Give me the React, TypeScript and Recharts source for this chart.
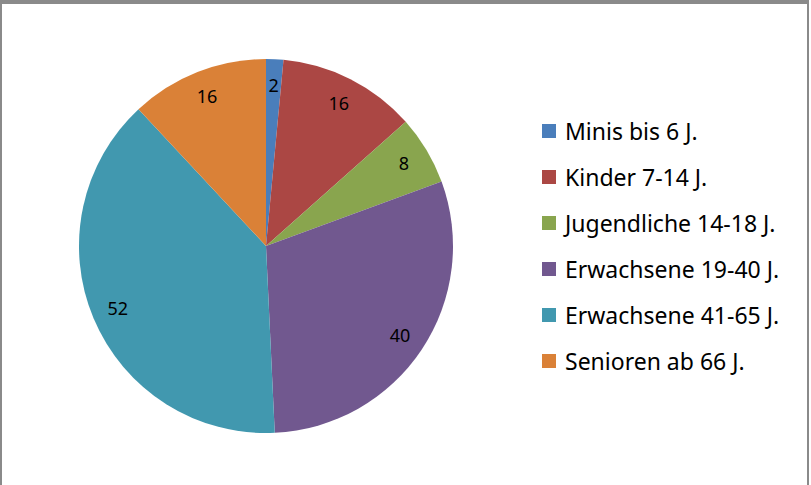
import React from 'react';
import { PieChart, Pie, Cell, Legend } from 'recharts';

const categories = [
  'Minis bis 6 J.',
  'Kinder 7-14 J.',
  'Jugendliche 14-18 J.',
  'Erwachsene 19-40 J.',
  'Erwachsene 41-65 J.',
  'Senioren ab 66 J.',
];
const values = [2, 16, 8, 40, 52, 16];
const colors = ['#4A7EBB', '#AB4744', '#89A54E', '#71588F', '#4198AF', '#DA8137'];

const data = categories.map((name, i) => ({ name, value: values[i] }));

const FONT = '"Noto Sans", "Open Sans", sans-serif';
const RADIAN = Math.PI / 180;

const renderLabel = (props: any) => {
  const { cx, cy, midAngle, outerRadius, value } = props;
  const r = outerRadius * 0.86;
  const x = cx + r * Math.cos(-midAngle * RADIAN);
  const y = cy + r * Math.sin(-midAngle * RADIAN);
  return (
    <text
      x={x}
      y={y}
      fill="#000"
      textAnchor="middle"
      dominantBaseline="central"
      fontSize={18}
      fontFamily={FONT}
    >
      {value}
    </text>
  );
};

const renderLegend = () => (
  <div style={{ fontFamily: FONT, fontSize: 23, color: '#000' }}>
    {categories.map((c, i) => (
      <div key={c} style={{ display: 'flex', alignItems: 'center', height: 46, whiteSpace: 'nowrap' }}>
        <div style={{ width: 14, height: 14, background: colors[i], marginRight: 9, flexShrink: 0 }} />
        <span>{c}</span>
      </div>
    ))}
  </div>
);

export default function App() {
  return (
    <div style={{ position: 'absolute', left: 0, top: 0, width: 811, height: 485, background: '#fff', overflow: 'hidden' }}>
      <div
        style={{
          position: 'absolute',
          left: 0,
          top: 0,
          width: 805,
          height: 520,
          borderTop: '4px solid #8a8a8a',
          borderLeft: '2px solid #8a8a8a',
          borderRight: '2px solid #8a8a8a',
        }}
      />
      <PieChart
        width={811}
        height={485}
        margin={{ top: 0, right: 0, bottom: 0, left: 0 }}
        style={{ position: 'absolute', left: 0, top: 0 }}
      >
        <Pie
          data={data}
          dataKey="value"
          nameKey="name"
          cx={266}
          cy={246}
          outerRadius={187}
          startAngle={90}
          endAngle={-270}
          stroke="none"
          label={renderLabel}
          labelLine={false}
          isAnimationActive={false}
        >
          {data.map((d, i) => (
            <Cell key={d.name} fill={colors[i]} />
          ))}
        </Pie>
        <Legend
          layout="vertical"
          content={renderLegend}
          wrapperStyle={{ position: 'absolute', left: 542, top: 108, width: 268 }}
        />
      </PieChart>
    </div>
  );
}
